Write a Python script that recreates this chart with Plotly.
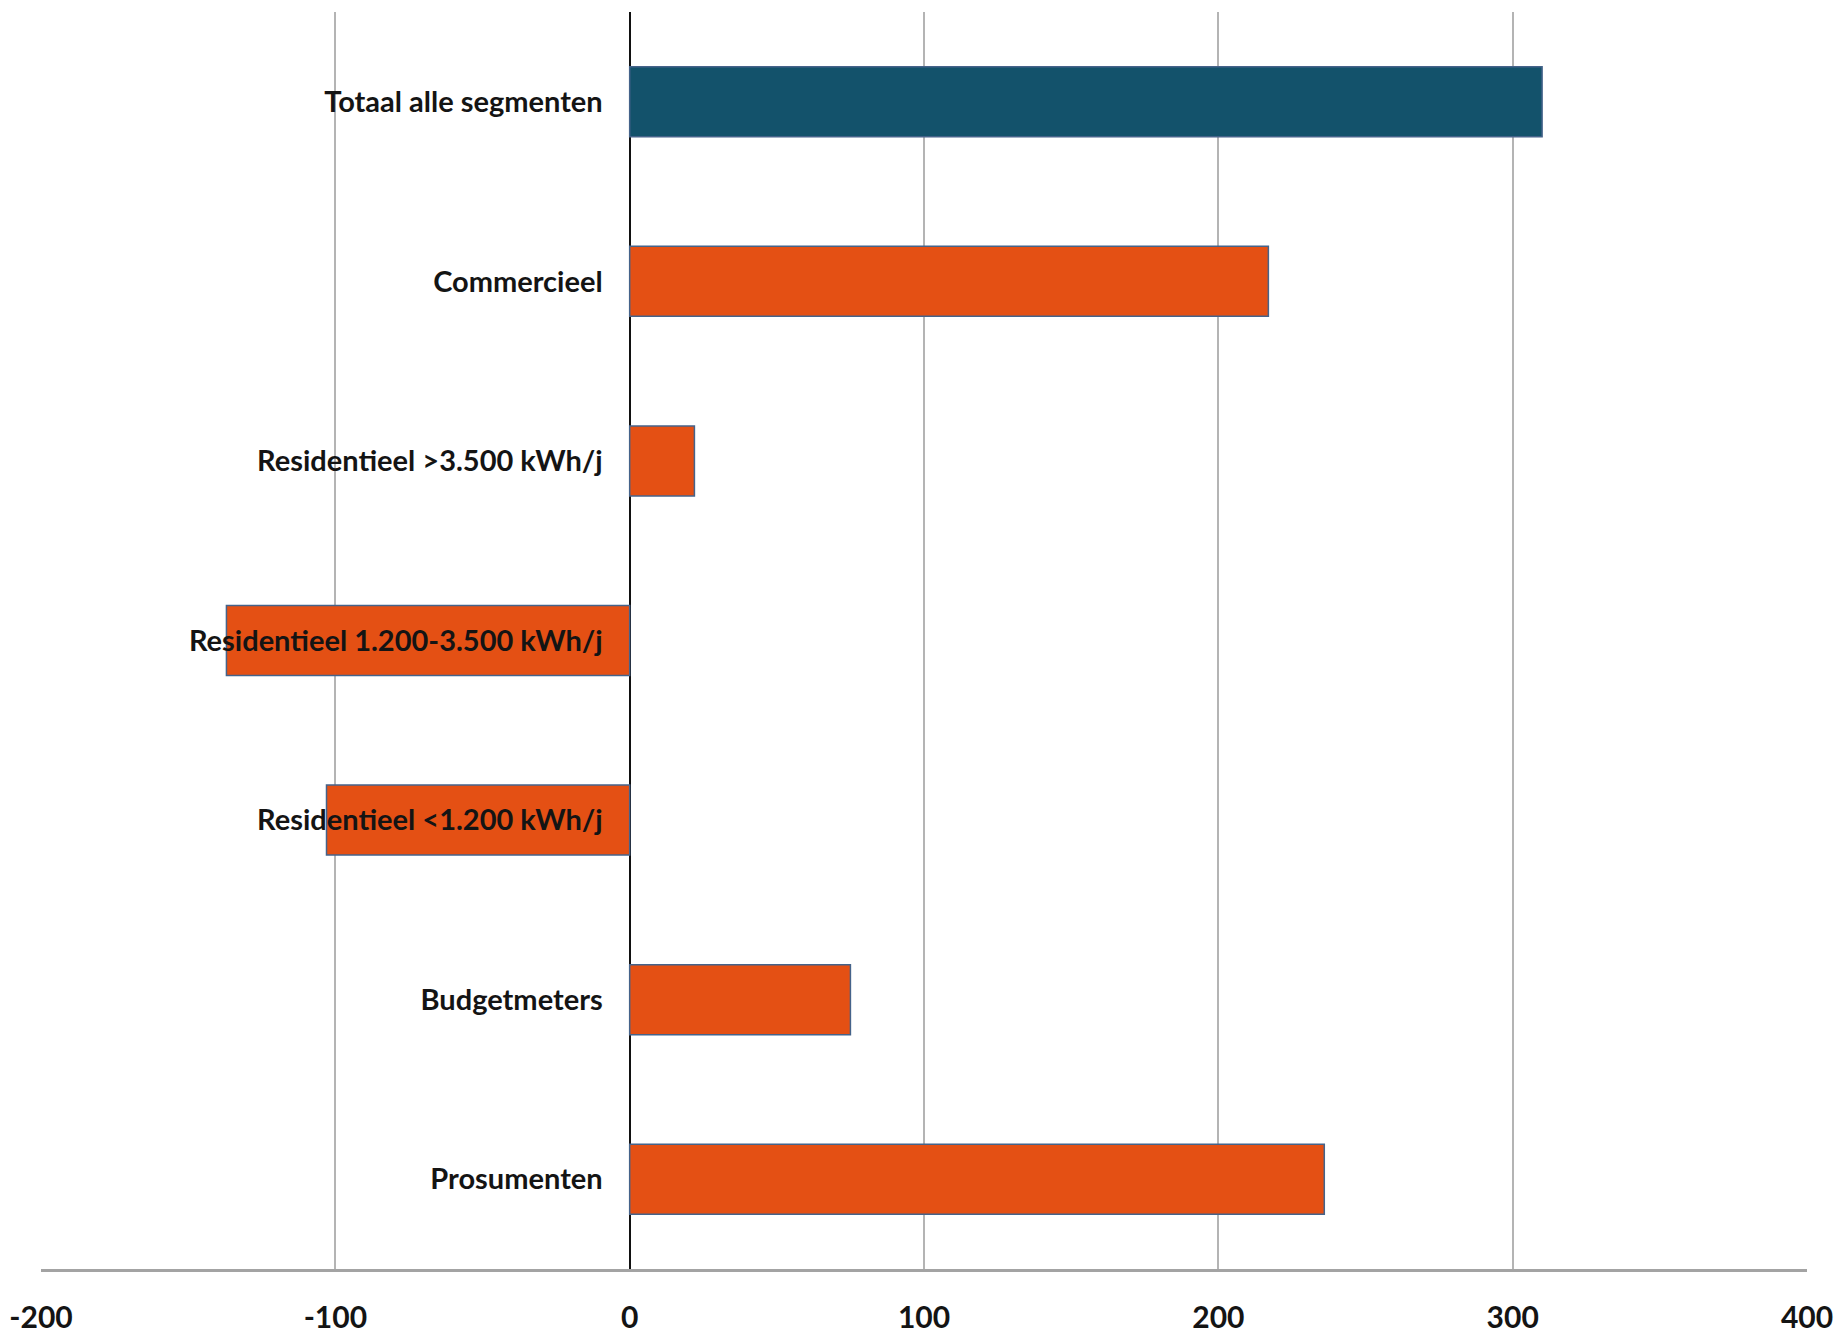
import plotly.graph_objects as go

# Segments, top to bottom
segments = [
    "Totaal alle segmenten",
    "Commercieel",
    "Residentieel >3.500 kWh/j",
    "Residentieel 1.200-3.500 kWh/j",
    "Residentieel <1.200 kWh/j",
    "Budgetmeters",
    "Prosumenten",
]
values = [310, 217, 22, -137, -103, 75, 236]
x_ticks = [-200, -100, 0, 100, 200, 300, 400]

TEAL = "#13526b"
ORANGE = "#e45014"
bar_colors = [TEAL] + [ORANGE] * (len(segments) - 1)

label_font = dict(family="Lato, Carlito, Calibri, sans-serif",
                  size=29, color="#141414", weight="bold")

fig = go.Figure(
    go.Bar(
        x=values,
        y=segments,
        orientation="h",
        width=0.39,
        marker=dict(color=bar_colors, line=dict(color="#45638a", width=1.5)),
        hoverinfo="x+y",
    )
)

fig.update_layout(
    width=1839,
    height=1336,
    margin=dict(l=41, r=32, t=12, b=67),
    paper_bgcolor="white",
    plot_bgcolor="white",
    showlegend=False,
    font=label_font,
)

fig.update_xaxes(
    range=[-200, 400],
    tickvals=x_ticks,
    ticktext=[str(v) for v in x_ticks],
    showgrid=True,
    gridcolor="#b4b4b4",
    gridwidth=2,
    zeroline=True,
    zerolinecolor="#111111",
    zerolinewidth=2,
    showline=True,
    linecolor="#a3a3a3",
    linewidth=3,
    ticks="",
    ticklabelstandoff=20,
    tickfont=dict(label_font, size=30),
    automargin=False,
)

fig.update_yaxes(
    autorange="reversed",
    anchor="free",
    position=1 / 3,
    showgrid=False,
    zeroline=False,
    showline=False,
    ticks="",
    ticklabelstandoff=27,
    tickfont=label_font,
    automargin=False,
)

fig.write_html("out.html")
